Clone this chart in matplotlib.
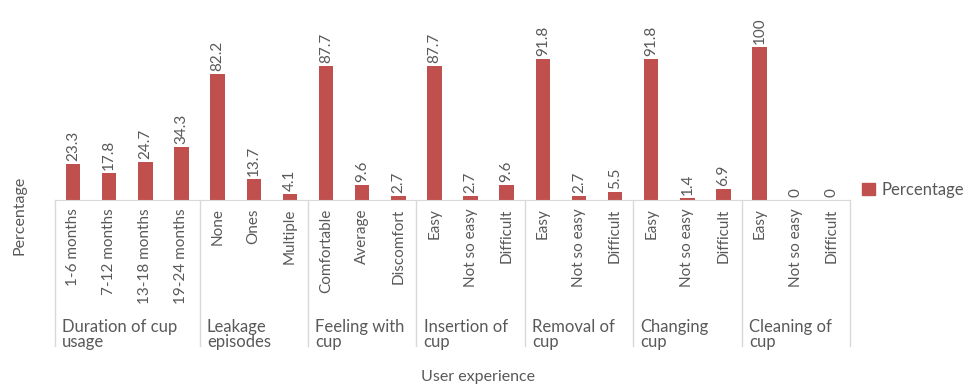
import matplotlib.pyplot as plt
from matplotlib.patches import Patch

# data
groups = ['Duration of cup\nusage', 'Leakage\nepisodes', 'Feeling with\ncup',
          'Insertion of\ncup', 'Removal of\ncup', 'Changing\ncup', 'Cleaning of\ncup']
categories = [
    ['1-6 months', '7-12 months', '13-18 months', '19-24 months'],
    ['None', 'Ones', 'Multiple'],
    ['Comfortable', 'Average', 'Discomfort'],
    ['Easy', 'Not so easy', 'Difficult'],
    ['Easy', 'Not so easy', 'Difficult'],
    ['Easy', 'Not so easy', 'Difficult'],
    ['Easy', 'Not so easy', 'Difficult'],
]
values = [
    [23.3, 17.8, 24.7, 34.3],
    [82.2, 13.7, 4.1],
    [87.7, 9.6, 2.7],
    [87.7, 2.7, 9.6],
    [91.8, 2.7, 5.5],
    [91.8, 1.4, 6.9],
    [100, 0, 0],
]

BAR = '#C0504D'
TXT = '#595959'
GRID = '#D9D9D9'
plt.rcParams['font.family'] = ['Lato', 'DejaVu Sans']

labels = [c for g in categories for c in g]
vals = [v for g in values for v in g]
xs = list(range(len(vals)))

fig = plt.figure(figsize=(9.67, 3.87), dpi=100)
ax = fig.add_axes([55 / 967, 1 - 200 / 387, 795 / 967, 180 / 387])
ax.bar(xs, vals, width=0.4, color=BAR)
ax.set_xlim(-0.5, len(vals) - 0.5)
ax.set_ylim(0, 117.6)

for x, v in zip(xs, vals):
    ax.text(x, v + 2, f'{v:g}', rotation=90, ha='center', va='bottom',
            fontsize=11, color=TXT)

ax.set_xticks(xs)
ax.set_xticklabels(labels, rotation=90, fontsize=11, color=TXT)
ax.tick_params(axis='x', length=0, pad=6)
ax.set_yticks([])
for s in ['left', 'right', 'top']:
    ax.spines[s].set_visible(False)
ax.spines['bottom'].set_color(GRID)

# group separators and group labels
trans = ax.get_xaxis_transform()
start = 0
bounds = [-0.5]
for g, cats in zip(groups, categories):
    left = start - 0.5
    ax.text(left + 0.2, -0.66, g, transform=trans, ha='left', va='top',
            fontsize=12, color=TXT, linespacing=0.95)
    start += len(cats)
    bounds.append(start - 0.5)
for b in bounds:
    ax.plot([b, b], [0, -0.81], transform=trans, color=GRID, lw=1, clip_on=False)

fig.text(20 / 967, 1 - 215 / 387, 'Percentage', rotation=90, ha='center',
         va='center', fontsize=11.5, color=TXT)
fig.text(478 / 967, 1 - 377 / 387, 'User experience', ha='center', va='center',
         fontsize=11.5, color=TXT)
fig.legend(handles=[Patch(color=BAR, label='Percentage')], loc='center left',
           bbox_to_anchor=(862 / 967, 1 - 190 / 387), frameon=False,
           borderaxespad=0, borderpad=0,
           fontsize=12, handlelength=0.75, handleheight=0.75, handletextpad=0.4,
           labelcolor=TXT)

fig.savefig('out.png', dpi=100)
